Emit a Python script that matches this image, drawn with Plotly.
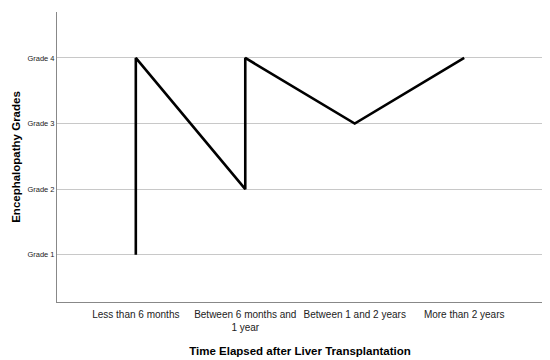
import plotly.graph_objects as go

categories = ["Less than 6 months", "Between 6 months and 1 year",
              "Between 1 and 2 years", "More than 2 years"]
tick_labels = ["Less than 6 months", "Between 6 months and<br>1 year",
               "Between 1 and 2 years", "More than 2 years"]
grade_labels = ["Grade 1", "Grade 2", "Grade 3", "Grade 4"]
grade_values = [1, 2, 3, 4]

# path of the line (category, grade)
path_categories = ["Less than 6 months", "Less than 6 months",
                   "Between 6 months and 1 year", "Between 6 months and 1 year",
                   "Between 1 and 2 years", "More than 2 years"]
path_grades = [1, 4, 2, 4, 3, 4]

x_idx = [categories.index(c) for c in path_categories]

fig = go.Figure(go.Scatter(x=x_idx, y=path_grades, mode="lines",
                           line=dict(color="black", width=2.6),
                           hoverinfo="skip"))

font = "Liberation Sans, Arial, sans-serif"
fig.update_layout(
    width=542, height=352,
    margin=dict(l=49, r=7, t=4, b=58),
    paper_bgcolor="white", plot_bgcolor="white",
    showlegend=False,
    font=dict(family=font, color="#222222"),
    xaxis=dict(range=[-0.72, 3.72], tickvals=list(range(len(categories))),
               ticktext=tick_labels, showgrid=False, zeroline=False,
               showline=True, linecolor="#888888", linewidth=1,
               ticks="", tickangle=0, automargin=False, ticklabelstandoff=3,
               tickfont=dict(size=10, color="#222222"),
               title=dict(text="<b>Time Elapsed after Liver Transplantation</b>",
                          font=dict(size=11.5, color="black"), standoff=14)),
    yaxis=dict(range=[0.28, 4.7], tickvals=grade_values, ticktext=grade_labels,
               showgrid=True, gridcolor="#c8c8c8", gridwidth=1, zeroline=False,
               showline=True, linecolor="#888888", linewidth=1,
               ticks="", automargin=False,
               tickfont=dict(size=7.5, color="#222222"),
               title=dict(text="<b>Encephalopathy Grades</b>",
                          font=dict(size=11.5, color="black"), standoff=4)),
)

fig.write_html("out.html")
